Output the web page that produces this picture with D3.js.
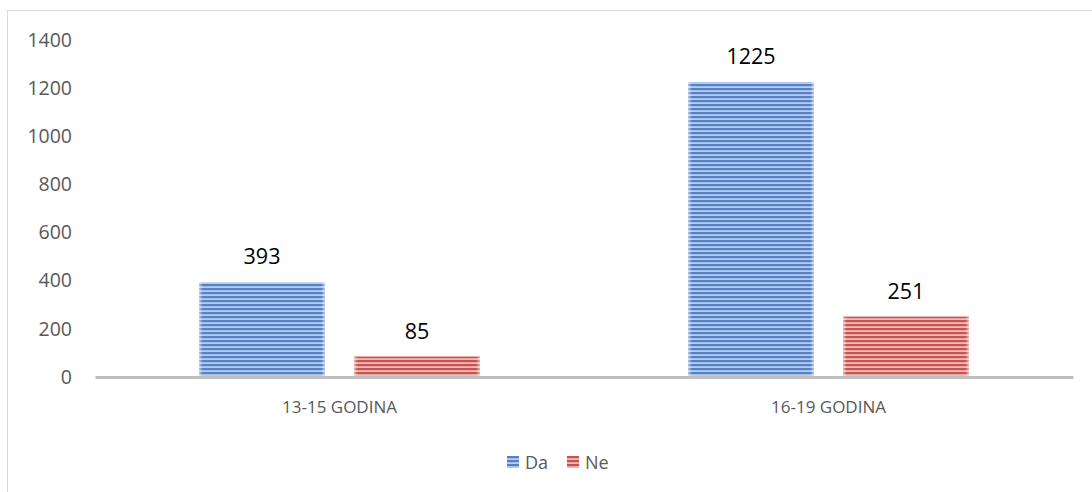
<!DOCTYPE html>
<html>
<head>
<meta charset="utf-8">
<script src="https://cdn.jsdelivr.net/npm/d3@7"></script>
<style>
  body { margin: 0; background: #fff; }
  svg { display: block; font-family: "Open Sans", sans-serif; }
</style>
</head>
<body>
<svg id="chart" width="1092" height="492"></svg>
<script>
// data
var categories = ["13-15 GODINA", "16-19 GODINA"];
var seriesNames = ["Da", "Ne"];
var daValues = [393, 1225];
var neValues = [85, 251];
var yTicks = [0, 200, 400, 600, 800, 1000, 1200, 1400];

var svg = d3.select("#chart");
var margin = { top: 40, right: 19, bottom: 115, left: 95 };
var width = 1092 - margin.left - margin.right;
var height = 492 - margin.top - margin.bottom;

// outer chart frame (only left and top visible)
svg.append("rect")
    .attr("x", 7.5).attr("y", 10.5)
    .attr("width", 1100).attr("height", 500)
    .attr("fill", "none")
    .attr("stroke", "#d9d9d9");

// striped fills
var defs = svg.append("defs");
var fills = { Da: ["#b9cced", "#5482c9"], Ne: ["#ecbcbb", "#c9524f"] };
seriesNames.forEach(function (s) {
    var p = defs.append("pattern")
        .attr("id", "pat-" + s)
        .attr("patternUnits", "userSpaceOnUse")
        .attr("width", 8).attr("height", 4);
    p.append("rect").attr("width", 8).attr("height", 4).attr("fill", fills[s][0]);
    p.append("rect").attr("width", 8).attr("height", 2.2).attr("fill", fills[s][1]);
});
var edge = defs.append("linearGradient").attr("id", "edge");
edge.append("stop").attr("offset", "0").attr("stop-color", "#fff").attr("stop-opacity", 0.55);
edge.append("stop").attr("offset", "0.03").attr("stop-color", "#fff").attr("stop-opacity", 0);
edge.append("stop").attr("offset", "0.97").attr("stop-color", "#fff").attr("stop-opacity", 0);
edge.append("stop").attr("offset", "1").attr("stop-color", "#fff").attr("stop-opacity", 0.55);

var g = svg.append("g")
    .attr("transform", "translate(" + margin.left + "," + margin.top + ")");

var x0 = d3.scaleBand().domain(categories).range([0, width]);
var x1 = d3.scaleBand().domain(seriesNames)
    .range([104, x0.bandwidth() - 104]).paddingInner(0.187);
var y = d3.scaleLinear().domain([0, 1400]).range([height, 0]);

// y axis labels (no line)
var yAxis = g.append("g")
    .call(d3.axisLeft(y).tickValues(yTicks).tickFormat(d3.format("d")).tickSize(0).tickPadding(23));
yAxis.select(".domain").remove();
yAxis.selectAll("text")
    .attr("fill", "#595959")
    .style("font", "19.5px 'Open Sans', sans-serif");

var data = categories.map(function (c, i) {
    return { cat: c, vals: [{ s: "Da", v: daValues[i] }, { s: "Ne", v: neValues[i] }] };
});

var groups = g.selectAll(".grp")
    .data(data)
    .enter().append("g")
    .attr("transform", function (d) { return "translate(" + x0(d.cat) + ",0)"; });

groups.selectAll(".bar")
    .data(function (d) { return d.vals; })
    .enter().append("rect")
    .attr("x", function (d) { return x1(d.s); })
    .attr("y", function (d) { return y(d.v); })
    .attr("width", x1.bandwidth())
    .attr("height", function (d) { return height - y(d.v); })
    .attr("fill", function (d) { return "url(#pat-" + d.s + ")"; });

groups.selectAll(".edge")
    .data(function (d) { return d.vals; })
    .enter().append("rect")
    .attr("x", function (d) { return x1(d.s); })
    .attr("y", function (d) { return y(d.v); })
    .attr("width", x1.bandwidth())
    .attr("height", function (d) { return height - y(d.v); })
    .attr("fill", "url(#edge)");

// value labels
groups.selectAll(".lbl")
    .data(function (d) { return d.vals; })
    .enter().append("text")
    .attr("x", function (d) { return x1(d.s) + x1.bandwidth() / 2; })
    .attr("y", function (d) { return y(d.v) - 18; })
    .attr("text-anchor", "middle")
    .attr("fill", "#000")
    .style("font", "21.5px 'Open Sans', sans-serif")
    .text(function (d) { return d.v; });

// x axis
var xAxis = g.append("g")
    .attr("transform", "translate(0," + height + ")")
    .call(d3.axisBottom(x0).tickSize(0).tickPadding(24));
xAxis.select(".domain")
    .attr("stroke", "#bfbfbf")
    .attr("stroke-width", 3);
xAxis.selectAll("text")
    .attr("fill", "#595959")
    .style("font", "17px 'Open Sans', sans-serif");

// legend
var legend = svg.append("g").attr("transform", "translate(507,456)");
var li = legend.selectAll(".li")
    .data(seriesNames)
    .enter().append("g")
    .attr("transform", function (d, i) { return "translate(" + (i * 60) + ",0)"; });
li.append("rect")
    .attr("width", 12).attr("height", 12)
    .attr("fill", function (d) { return "url(#pat-" + d + ")"; });
li.append("text")
    .attr("x", 18).attr("y", 13)
    .attr("fill", "#595959")
    .style("font", "18px 'Open Sans', sans-serif")
    .text(function (d) { return d; });
</script>
</body>
</html>
